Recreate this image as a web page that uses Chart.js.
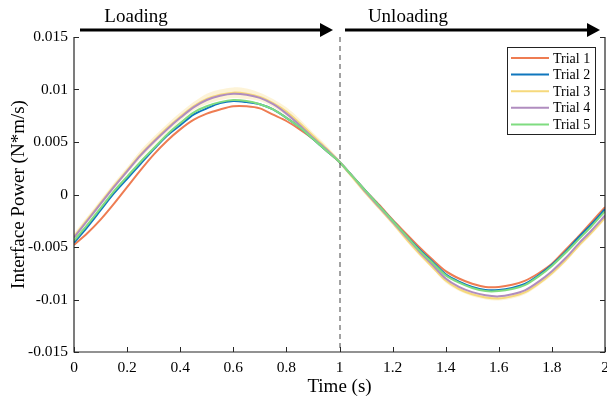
<!DOCTYPE html>
<html>
<head>
<meta charset="utf-8">
<script src="https://cdn.jsdelivr.net/npm/chart.js@4.4.0/dist/chart.umd.min.js"></script>
<style>
  html, body { margin: 0; padding: 0; background: #fff; }
  #wrap { width: 607px; height: 400px; position: relative; }
</style>
</head>
<body>
<div id="wrap"><canvas id="powerChart" width="607" height="400"></canvas></div>
<script>
// time samples (s)
const time = [0, 0.05, 0.1, 0.15, 0.2, 0.25, 0.3, 0.35, 0.4, 0.45, 0.5, 0.55, 0.6, 0.65, 0.7, 0.75, 0.8, 0.85, 0.9, 0.95,
  1, 1.05, 1.1, 1.15, 1.2, 1.25, 1.3, 1.35, 1.4, 1.45, 1.5, 1.55, 1.6, 1.65, 1.7, 1.75, 1.8, 1.85, 1.9, 1.95, 2];

const trial1 = [-0.0048, -0.0037, -0.0024, -0.0009, 0.0007, 0.0023, 0.0038, 0.0051, 0.0062, 0.0071, 0.0077, 0.0081, 0.0084, 0.0084, 0.0082, 0.0076, 0.0070, 0.0062, 0.0053, 0.0042,
  0.0031, 0.0017, 0.0003, -0.0010, -0.0024, -0.0037, -0.0050, -0.0062, -0.0073, -0.0080, -0.0085, -0.0088, -0.0088, -0.0086, -0.0082, -0.0075, -0.0066, -0.0053, -0.0040, -0.0026, -0.0012];
const trial2 = [-0.0046, -0.0031, -0.0015, 0.0001, 0.0015, 0.0029, 0.0043, 0.0056, 0.0066, 0.0076, 0.0082, 0.0087, 0.0089, 0.0088, 0.0086, 0.0081, 0.0073, 0.0064, 0.0053, 0.0042,
  0.0031, 0.0017, 0.0003, -0.0011, -0.0025, -0.0039, -0.0052, -0.0064, -0.0076, -0.0083, -0.0088, -0.0091, -0.0091, -0.0089, -0.0085, -0.0077, -0.0067, -0.0055, -0.0041, -0.0028, -0.0014];
const trial3 = [-0.0040, -0.0024, -0.0008, 0.0008, 0.0023, 0.0038, 0.0051, 0.0063, 0.0074, 0.0084, 0.0091, 0.0095, 0.0097, 0.0096, 0.0093, 0.0087, 0.0079, 0.0068, 0.0056, 0.0044,
  0.0031, 0.0016, 0.0001, -0.0013, -0.0027, -0.0042, -0.0056, -0.0069, -0.0082, -0.0090, -0.0095, -0.0098, -0.0099, -0.0097, -0.0093, -0.0085, -0.0075, -0.0063, -0.0049, -0.0036, -0.0022];
const trial4 = [-0.0041, -0.0025, -0.0009, 0.0007, 0.0022, 0.0037, 0.0050, 0.0062, 0.0073, 0.0083, 0.0090, 0.0094, 0.0096, 0.0095, 0.0092, 0.0086, 0.0077, 0.0066, 0.0054, 0.0043,
  0.0031, 0.0017, 0.0002, -0.0012, -0.0026, -0.0040, -0.0054, -0.0067, -0.0080, -0.0088, -0.0093, -0.0096, -0.0097, -0.0095, -0.0091, -0.0083, -0.0073, -0.0061, -0.0047, -0.0034, -0.0020];
const trial5 = [-0.0044, -0.0029, -0.0013, 0.0003, 0.0017, 0.0031, 0.0044, 0.0057, 0.0068, 0.0078, 0.0084, 0.0088, 0.0090, 0.0089, 0.0086, 0.0081, 0.0073, 0.0064, 0.0053, 0.0042,
  0.0031, 0.0017, 0.0003, -0.0011, -0.0025, -0.0039, -0.0053, -0.0065, -0.0077, -0.0084, -0.0089, -0.0092, -0.0092, -0.0090, -0.0086, -0.0078, -0.0068, -0.0056, -0.0043, -0.0030, -0.0016];
// spread of the shaded band around trial 3
const trial3Spread = [0.0003, 0.0003, 0.0003, 0.0003, 0.0003, 0.0004, 0.0004, 0.0004, 0.0004, 0.0004, 0.0005, 0.0005, 0.0005, 0.0005, 0.0004, 0.0004, 0.0004, 0.0004, 0.0003, 0.0003,
  0.0002, 0.0002, 0.0002, 0.0002, 0.0002, 0.0002, 0.0002, 0.0002, 0.0002, 0.0002, 0.0002, 0.0002, 0.0002, 0.0002, 0.0002, 0.0002, 0.0002, 0.0002, 0.0002, 0.0002, 0.0002];

const trialNames = ['Trial 1', 'Trial 2', 'Trial 3', 'Trial 4', 'Trial 5'];
const trialColors = ['#ee7c52', '#0f77bd', '#f6d97c', '#b08dbf', '#7fdc80'];
const xTicks = [0, 0.2, 0.4, 0.6, 0.8, 1, 1.2, 1.4, 1.6, 1.8, 2];
const xTickLabels = ['0', '0.2', '0.4', '0.6', '0.8', '1', '1.2', '1.4', '1.6', '1.8', '2'];
const yTicks = [-0.015, -0.01, -0.005, 0, 0.005, 0.01, 0.015];
const yTickLabels = ['-0.015', '-0.01', '-0.005', '0', '0.005', '0.01', '0.015'];
const phaseNames = ['Loading', 'Unloading'];

const serif = '"Liberation Serif", "DejaVu Serif", serif';
const series = [trial1, trial2, trial3, trial4, trial5];

const toPoints = (arr) => time.map((t, i) => ({ x: t, y: arr[i] }));

const datasets = [
  {
    data: time.map((t, i) => ({ x: t, y: trial3[i] + trial3Spread[i] })),
    borderWidth: 0, pointRadius: 0, fill: false, order: 20, tension: 0.3
  },
  {
    data: time.map((t, i) => ({ x: t, y: trial3[i] - trial3Spread[i] })),
    borderWidth: 0, pointRadius: 0, fill: '-1', backgroundColor: 'rgba(248,222,140,0.35)', order: 20, tension: 0.3
  }
];
series.forEach((arr, i) => {
  datasets.push({
    label: trialNames[i],
    data: toPoints(arr),
    borderColor: trialColors[i],
    borderWidth: 2,
    pointRadius: 0,
    fill: false,
    tension: 0.3,
    order: 5 - i
  });
});

const decorPlugin = {
  id: 'decor',
  afterDraw(chart) {
    const ctx = chart.ctx;
    const a = chart.chartArea;
    const xs = chart.scales.x;
    const ys = chart.scales.y;
    ctx.save();

    // dashed line at t = 1
    const xMid = xs.getPixelForValue(1);
    ctx.strokeStyle = '#444';
    ctx.lineWidth = 1;
    ctx.setLineDash([5, 4]);
    ctx.beginPath();
    ctx.moveTo(xMid + 0.5, a.top);
    ctx.lineTo(xMid + 0.5, a.bottom);
    ctx.stroke();
    ctx.setLineDash([]);

    // axes: left, bottom, right
    ctx.strokeStyle = '#262626';
    ctx.lineWidth = 1.2;
    ctx.beginPath();
    ctx.moveTo(a.left, a.top);
    ctx.lineTo(a.left, a.bottom);
    ctx.lineTo(a.right, a.bottom);
    ctx.lineTo(a.right, a.top);
    ctx.stroke();

    // inward ticks
    ctx.lineWidth = 1;
    ctx.beginPath();
    yTicks.forEach(v => {
      const y = Math.round(ys.getPixelForValue(v)) + 0.5;
      ctx.moveTo(a.left, y); ctx.lineTo(a.left + 5, y);
      ctx.moveTo(a.right, y); ctx.lineTo(a.right - 5, y);
    });
    xTicks.forEach(v => {
      const x = Math.round(xs.getPixelForValue(v)) + 0.5;
      ctx.moveTo(x, a.bottom); ctx.lineTo(x, a.bottom - 5);
    });
    ctx.stroke();

    // axis titles
    ctx.fillStyle = '#000';
    ctx.font = '19px ' + serif;
    ctx.textAlign = 'center';
    ctx.textBaseline = 'middle';
    ctx.fillText('Time (s)', xMid, 387);
    ctx.save();
    ctx.translate(19, (a.top + a.bottom) / 2);
    ctx.rotate(-Math.PI / 2);
    ctx.fillText('Interface Power (N*m/s)', 0, 0);
    ctx.restore();

    // phase arrows
    const drawArrow = (x0, x1, y) => {
      ctx.lineWidth = 3;
      ctx.beginPath();
      ctx.moveTo(x0, y);
      ctx.lineTo(x1 - 10, y);
      ctx.stroke();
      ctx.beginPath();
      ctx.moveTo(x1, y);
      ctx.lineTo(x1 - 13, y - 7);
      ctx.lineTo(x1 - 13, y + 7);
      ctx.closePath();
      ctx.fill();
    };
    ctx.strokeStyle = '#000';
    drawArrow(80, 333, 30);
    drawArrow(345, 600, 30);
    ctx.font = '19px ' + serif;
    ctx.textBaseline = 'alphabetic';
    ctx.fillText(phaseNames[0], 136, 22);
    ctx.fillText(phaseNames[1], 408, 22);

    // legend box
    const lx = 507, ly = 47, lw = 88, lh = 87;
    ctx.fillStyle = '#fff';
    ctx.fillRect(lx, ly, lw, lh);
    ctx.strokeStyle = '#222';
    ctx.lineWidth = 1;
    ctx.strokeRect(lx + 0.5, ly + 0.5, lw, lh);
    ctx.font = '14px ' + serif;
    ctx.textAlign = 'left';
    ctx.textBaseline = 'middle';
    trialNames.forEach((name, i) => {
      const y = 58 + i * 16.6;
      ctx.strokeStyle = trialColors[i];
      ctx.lineWidth = 2;
      ctx.beginPath();
      ctx.moveTo(511, y);
      ctx.lineTo(549, y);
      ctx.stroke();
      ctx.fillStyle = '#000';
      ctx.fillText(name, 553, y + 1);
    });
    ctx.restore();
  }
};

new Chart(document.getElementById('powerChart'), {
  type: 'line',
  data: { datasets: datasets },
  options: {
    responsive: false,
    animation: false,
    layout: { padding: { left: 0, top: 37, right: 2, bottom: 0 } },
    plugins: {
      legend: { display: false },
      tooltip: { enabled: false }
    },
    scales: {
      x: {
        type: 'linear',
        min: 0,
        max: 2,
        grid: { display: false, drawTicks: false },
        border: { display: false },
        afterBuildTicks: (axis) => { axis.ticks = xTicks.map(v => ({ value: v })); },
        afterFit: (axis) => { axis.height = 48; axis.paddingLeft = 0; axis.paddingRight = 0; },
        ticks: {
          padding: 7,
          color: '#000',
          font: { family: serif, size: 15.5 },
          maxRotation: 0,
          callback: (v) => xTickLabels[xTicks.indexOf(v)]
        }
      },
      y: {
        min: -0.015,
        max: 0.015,
        grid: { display: false, drawTicks: false },
        border: { display: false },
        afterBuildTicks: (axis) => { axis.ticks = yTicks.map(v => ({ value: v })); },
        afterFit: (axis) => { axis.width = 74; axis.paddingTop = 0; axis.paddingBottom = 0; },
        ticks: {
          padding: 6,
          color: '#000',
          font: { family: serif, size: 15.5 },
          callback: (v) => yTickLabels[yTicks.indexOf(v)]
        }
      }
    }
  },
  plugins: [decorPlugin]
});
</script>
</body>
</html>
